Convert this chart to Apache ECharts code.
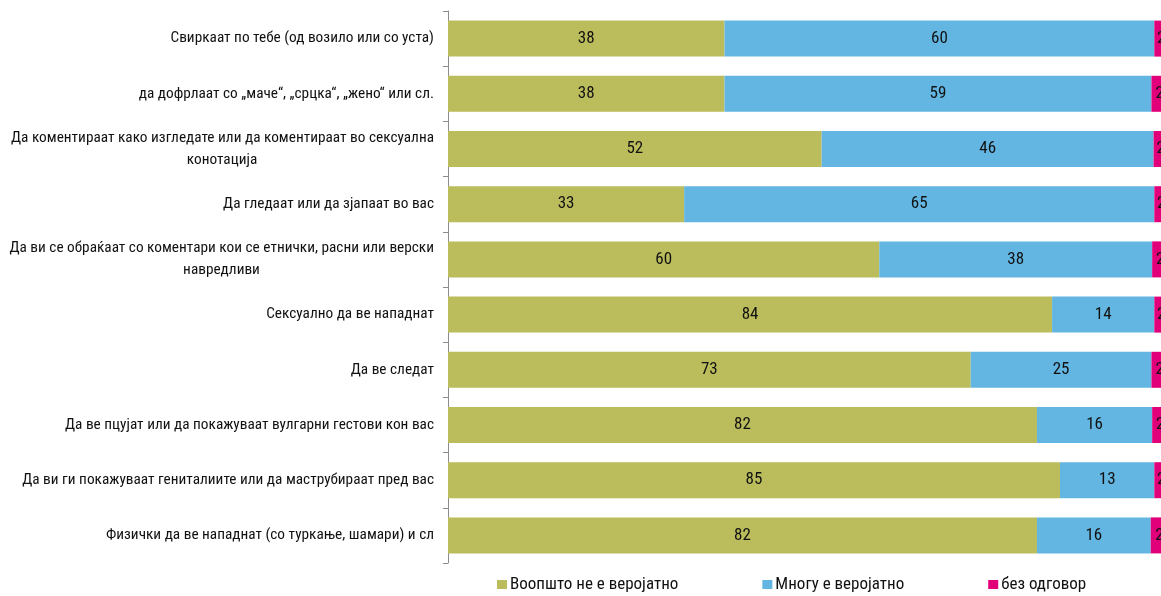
<!DOCTYPE html>
<html><head><meta charset="utf-8">
<script src="https://cdn.jsdelivr.net/npm/echarts@6/dist/echarts.min.js"></script>
<style>html,body{margin:0;padding:0;background:#fff}#c{width:1161px;height:596px}</style>
</head><body><div id="c"></div>
<script>
const categories = [
  'Свиркаат по тебе (од возило или со уста)',
  'да дофрлаат со „маче“, „срцка“, „жено“ или сл.',
  'Да коментираат како изгледате или да коментираат во сексуална\nконотација',
  'Да гледаат или да зјапаат во вас',
  'Да ви се обраќаат со коментари кои се етнички, расни или верски\nнавредливи',
  'Сексуално да ве нападнат',
  'Да ве следат',
  'Да ве пцујат или да покажуваат вулгарни гестови кон вас',
  'Да ви ги покажуваат гениталиите или да маструбираат пред вас',
  'Физички да ве нападнат (со туркање, шамари) и сл'
];
const seriesNames = ['Воопшто не е веројатно', 'Многу е веројатно', 'без одговор'];
const notLikely  = [38.4, 38.4, 51.9, 32.8, 59.9, 83.9, 72.6, 81.8, 85.0, 81.8];
const veryLikely = [59.7, 59.3, 46.1, 65.3, 37.9, 14.2, 25.1, 16.0, 13.1, 15.8];
const noAnswer   = [1.9, 2.3, 2.0, 1.9, 2.2, 1.9, 2.3, 2.2, 1.9, 2.4];
const colors = ['#BBBD5C', '#63B6E2', '#E2007A'];

const FONT = '"Roboto Condensed", "Liberation Sans Narrow", sans-serif';
const FS = 15.3;
const TXT = '#111';
const ctx = document.createElement('canvas').getContext('2d');
ctx.font = FS + 'px ' + FONT;
const rich = {};
const labelText = {};
categories.forEach((c, i) => {
  const lines = c.split('\n');
  if (lines.length > 1) {
    const w = Math.ceil(ctx.measureText(lines[0]).width);
    rich['a' + i] = { fontFamily: FONT, fontSize: FS, color: TXT, lineHeight: 22 };
    rich['b' + i] = { fontFamily: FONT, fontSize: FS, color: TXT, lineHeight: 22, width: w, align: 'center' };
    labelText[c] = '{a' + i + '|' + lines[0] + '}\n{b' + i + '|' + lines[1] + '}';
  }
});

const chart = echarts.init(document.getElementById('c'), null, { renderer: 'canvas' });
const lbl = {
  show: true, position: 'inside', color: TXT, fontFamily: FONT, fontSize: 17,
  formatter: p => Math.round(p.value)
};
const mk = (name, data, color) => ({
  name, type: 'bar', stack: 'total', data, barWidth: 36,
  itemStyle: { color }, label: lbl, emphasis: { disabled: true }
});
chart.setOption({
  animation: false,
  color: colors,
  grid: { left: 448, right: -7, top: 11, bottom: 33, containLabel: false, outerBoundsMode: 'none' },
  xAxis: { type: 'value', min: 0, max: 100, show: false },
  yAxis: {
    type: 'category', inverse: true, data: categories,
    axisLine: { show: true, lineStyle: { color: '#8c8c8c', width: 1 } },
    axisTick: { show: true, length: 5, lineStyle: { color: '#8c8c8c' } },
    axisLabel: {
      margin: 14, color: TXT, fontFamily: FONT, fontSize: FS, lineHeight: 22,
      formatter: v => labelText[v] || v, rich
    },
    splitLine: { show: false }
  },
  legend: {
    top: 576, left: 497, padding: 0, icon: 'rect', itemWidth: 10, itemHeight: 9, itemGap: 84,
    textStyle: { fontFamily: FONT, fontSize: 17, color: TXT, padding: [0, 0, 0, -2] },
    data: seriesNames
  },
  series: [
    mk(seriesNames[0], notLikely, colors[0]),
    mk(seriesNames[1], veryLikely, colors[1]),
    mk(seriesNames[2], noAnswer, colors[2])
  ]
});
</script></body></html>
